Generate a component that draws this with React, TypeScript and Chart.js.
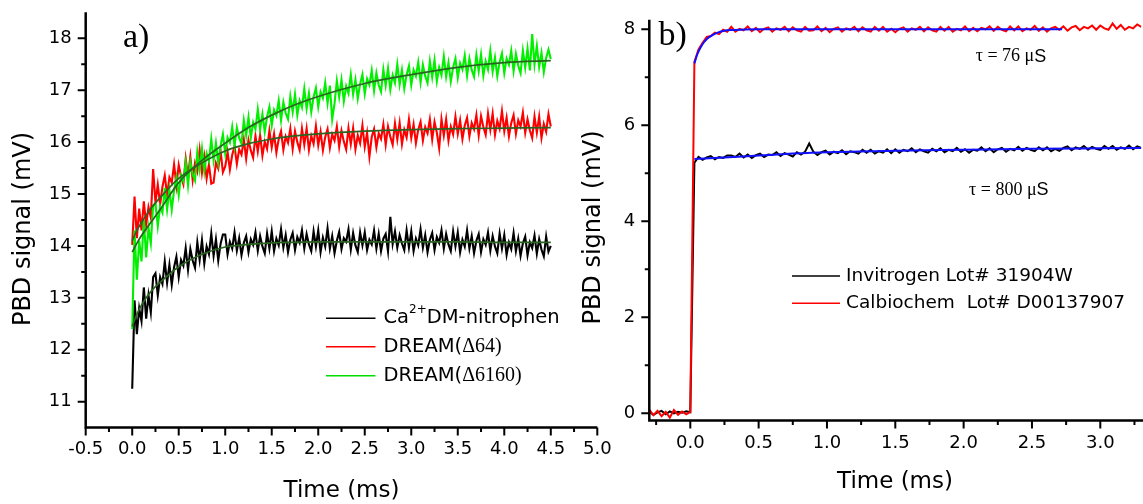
import React, { useEffect, useRef } from 'react';
import { Chart, registerables } from 'chart.js';

Chart.register(...registerables);

// ================= Panel a) =================
const A_T_START = 0;
const A_T_STEP = 0.025;

const A_CA_DMNP = [
  11.25, 12.95, 12.3, 12.8, 12.55, 13.2, 12.6, 13.05, 12.72, 13.4,
  13.47, 13.05, 13.4, 13.27, 13.7, 13.29, 13.64, 13.25, 13.59, 13.79,
  13.4, 13.73, 13.62, 13.96, 13.54, 13.94, 13.72, 13.58, 14.07, 13.73,
  14.11, 13.66, 13.99, 13.84, 14.24, 13.81, 14.13, 13.72, 14.04, 14.22,
  14.22, 13.84, 14.08, 13.95, 14.26, 13.91, 14.15, 13.82, 14.06, 14.19,
  13.88, 14.13, 14.02, 14.26, 13.91, 14.19, 13.99, 13.86, 14.24, 13.95,
  14.28, 13.9, 14.14, 14.01, 14.32, 13.97, 14.21, 13.88, 14.12, 14.25,
  13.92, 14.17, 14.06, 14.3, 13.95, 14.23, 14.03, 13.9, 14.28, 13.99,
  14.3, 13.88, 14.16, 13.99, 14.34, 13.95, 14.19, 13.86, 14.1, 14.27,
  13.94, 14.15, 14.08, 14.32, 13.93, 14.25, 14.01, 13.88, 14.26, 14.01,
  14.26, 13.92, 14.12, 14.03, 14.3, 13.95, 14.23, 13.9, 14.14, 14.23,
  13.9, 14.56, 14.04, 14.28, 13.97, 14.21, 14.05, 13.92, 14.3, 13.97,
  14.28, 13.9, 14.14, 14.01, 14.32, 13.97, 14.21, 13.88, 14.12, 14.25,
  13.92, 14.17, 14.06, 14.3, 13.95, 14.23, 14.03, 13.9, 14.28, 13.99,
  14.26, 13.88, 14.12, 13.99, 14.3, 13.95, 14.19, 13.86, 14.1, 14.23,
  13.88, 14.13, 14.02, 14.26, 13.91, 14.19, 13.99, 13.86, 14.24, 13.95,
  14.21, 13.83, 14.07, 13.94, 14.25, 13.9, 14.14, 13.81, 14.05, 14.18,
  13.82, 14.07, 13.96, 14.2, 13.85, 14.13, 13.93, 13.8, 14.18, 13.89,
  14.0,
];

const A_DREAM64 = [
  14.02, 14.95, 14.15, 14.72, 14.3, 14.86, 14.4, 14.75, 14.55, 15.48,
  14.84, 15.18, 14.8, 15.14, 15.36, 14.98, 15.32, 15.22, 15.57, 15.16,
  15.56, 15.34, 15.19, 15.68, 15.34, 15.72, 15.27, 15.6, 15.44, 15.85,
  15.41, 15.72, 15.3, 15.57, 15.2, 15.22, 15.6, 15.49, 15.83, 15.42,
  15.53, 15.81, 15.47, 15.75, 15.92, 15.58, 15.86, 15.76, 16.05, 15.68,
  16.04, 15.84, 15.7, 16.12, 15.82, 16.14, 15.74, 16.01, 15.87, 16.22,
  15.9, 16.16, 15.8, 16.06, 16.21, 15.85, 16.11, 15.99, 16.26, 15.87,
  16.21, 16.0, 15.85, 16.26, 15.95, 16.26, 15.85, 16.12, 15.97, 16.31,
  15.94, 16.2, 15.84, 16.1, 16.25, 15.89, 16.15, 16.03, 16.3, 15.91,
  16.22, 16.01, 15.86, 16.27, 15.96, 16.27, 15.86, 16.13, 15.98, 16.32,
  15.91, 16.18, 15.72, 16.1, 16.25, 15.9, 16.17, 16.06, 16.34, 15.95,
  16.3, 16.1, 15.95, 16.36, 16.05, 16.37, 15.96, 16.24, 16.09, 16.44,
  16.08, 16.34, 15.98, 16.24, 16.39, 16.03, 16.29, 16.17, 16.44, 16.05,
  16.39, 16.18, 15.88, 16.44, 16.13, 16.44, 16.03, 16.3, 16.15, 16.49,
  16.16, 16.42, 16.06, 16.32, 16.47, 16.11, 16.37, 16.25, 16.52, 16.13,
  16.5, 16.29, 16.14, 16.55, 16.24, 16.55, 16.14, 16.41, 16.26, 16.6,
  16.21, 16.47, 16.11, 16.37, 16.52, 16.16, 16.42, 16.3, 16.57, 16.18,
  16.44, 16.23, 16.08, 16.49, 16.18, 16.49, 16.08, 16.35, 16.2, 16.54,
  16.3,
];

const A_DREAM6160 = [
  12.4, 14.3, 13.35, 14.1, 13.7, 14.5, 13.78, 14.35, 14.05, 14.78,
  14.82, 14.38, 14.76, 14.64, 15.12, 14.7, 15.08, 14.7, 15.07, 15.32,
  14.98, 15.36, 15.25, 15.61, 15.17, 15.62, 15.38, 15.26, 15.81, 15.47,
  15.87, 15.44, 15.78, 15.64, 16.06, 15.65, 15.98, 15.6, 15.93, 16.15,
  15.78, 16.09, 15.99, 16.29, 15.92, 16.28, 16.08, 15.97, 16.42, 16.13,
  16.48, 16.08, 16.38, 16.25, 16.63, 16.25, 16.54, 16.2, 16.49, 16.68,
  16.32, 16.62, 16.51, 16.8, 16.42, 16.77, 16.56, 16.44, 16.88, 16.58,
  16.92, 16.52, 16.8, 16.67, 17.03, 16.65, 16.94, 16.58, 16.87, 17.04,
  16.68, 16.97, 16.85, 17.14, 16.75, 17.09, 16.44, 16.74, 17.18, 16.87,
  17.2, 16.79, 17.08, 16.94, 17.3, 16.92, 17.2, 16.84, 17.12, 17.3,
  16.93, 17.22, 17.1, 17.38, 16.99, 17.33, 17.1, 16.97, 17.4, 17.09,
  17.42, 17.01, 17.29, 17.14, 17.5, 17.11, 17.39, 17.03, 17.3, 17.47,
  17.1, 17.39, 17.27, 17.54, 17.15, 17.49, 17.27, 17.14, 17.56, 17.25,
  17.58, 17.17, 17.44, 17.29, 17.65, 17.26, 17.53, 17.17, 17.44, 17.61,
  17.24, 17.52, 17.4, 17.67, 17.28, 17.61, 17.39, 17.26, 17.68, 17.37,
  17.69, 17.28, 17.56, 17.4, 17.76, 17.36, 17.63, 17.27, 17.54, 17.71,
  17.33, 17.61, 17.49, 17.76, 17.37, 17.7, 17.47, 17.33, 17.76, 17.44,
  17.8, 17.38, 18.08, 17.5, 17.85, 17.45, 17.72, 17.35, 17.62, 17.78,
  17.6,
];

const A_FIT_T = [0, 0.05, 0.1, 0.2, 0.3, 0.5, 0.75, 1, 1.25, 1.5, 1.75, 2, 2.5, 3, 3.5, 4, 4.5];
const A_FIT_CA = [12.45, 12.68, 12.86, 13.12, 13.3, 13.6, 13.84, 13.98, 14.03, 14.06, 14.07, 14.08, 14.08, 14.08, 14.08, 14.07, 14.07];
const A_FIT_64 = [14.1, 14.3, 14.45, 14.72, 14.93, 15.3, 15.6, 15.83, 15.97, 16.06, 16.12, 16.16, 16.21, 16.24, 16.26, 16.27, 16.28];
const A_FIT_6160 = [13.88, 14.05, 14.2, 14.45, 14.7, 15.22, 15.65, 15.98, 16.28, 16.52, 16.72, 16.88, 17.13, 17.3, 17.44, 17.53, 17.57];

const A_X_TICKS = [-0.5, 0, 0.5, 1, 1.5, 2, 2.5, 3, 3.5, 4, 4.5, 5];
const A_X_MINOR = [-0.25, 0.25, 0.75, 1.25, 1.75, 2.25, 2.75, 3.25, 3.75, 4.25, 4.75];
const A_Y_TICKS = [11, 12, 13, 14, 15, 16, 17, 18];
const A_Y_MINOR = [11.5, 12.5, 13.5, 14.5, 15.5, 16.5, 17.5];

// ================= Panel b) =================
const B_T_START = -0.3;
const B_T_STEP = 0.03;

const B_CALBIOCHEM = [
  0.08, -0.04, 0.05, -0.06, 0.03, -0.09, 0.07, -0.03, 0.04, -0.02,
  0.03, 7.32, 7.58, 7.72, 7.84, 7.86, 7.93, 7.9, 7.99, 7.95,
  8.05, 7.95, 8.01, 7.98, 8.06, 7.96, 8.03, 7.94, 8.01, 8.04,
  7.95, 8.02, 7.99, 8.05, 7.96, 8.04, 7.98, 7.95, 8.05, 7.97,
  7.98, 8.06, 7.96, 8.03, 7.94, 8.01, 8.04, 7.95, 8.02, 7.99,
  8.05, 7.96, 8.04, 7.98, 7.95, 8.05, 7.97, 8.05, 7.95, 8.01,
  7.94, 8.01, 8.04, 7.95, 8.02, 7.99, 8.05, 7.96, 8.04, 7.98,
  7.95, 8.05, 7.97, 8.05, 7.95, 8.01, 7.98, 8.06, 7.96, 8.03,
  7.96, 8.03, 8.0, 8.06, 7.97, 8.05, 7.99, 7.96, 8.06, 7.98,
  8.06, 7.96, 8.02, 7.99, 8.07, 7.97, 8.04, 7.95, 8.02, 8.05,
  7.99, 8.06, 7.97, 8.04, 8.07, 7.98, 8.05, 8.02, 8.08, 7.99,
  8.08, 8.02, 7.99, 8.12, 8.01, 8.09, 7.99, 8.05, 8.02, 8.1,
  8.05,
];

const B_INVITROGEN = [
  0.03, -0.03, 0.02, 0.05, -0.02, 0.04, 0.0, 0.03, 0.01, 0.04,
  0.02, 5.22, 5.34, 5.28, 5.33, 5.36, 5.29, 5.34, 5.32, 5.37,
  5.37, 5.34, 5.41, 5.33, 5.39, 5.32, 5.38, 5.41, 5.34, 5.39,
  5.38, 5.44, 5.36, 5.42, 5.39, 5.35, 5.44, 5.39, 5.45, 5.62,
  5.45, 5.38, 5.44, 5.47, 5.39, 5.45, 5.42, 5.48, 5.4, 5.46,
  5.44, 5.41, 5.49, 5.43, 5.49, 5.41, 5.46, 5.43, 5.5, 5.42,
  5.5, 5.43, 5.49, 5.46, 5.52, 5.44, 5.5, 5.46, 5.43, 5.51,
  5.46, 5.52, 5.44, 5.49, 5.46, 5.53, 5.45, 5.5, 5.43, 5.49,
  5.47, 5.54, 5.46, 5.52, 5.44, 5.5, 5.53, 5.45, 5.51, 5.48,
  5.55, 5.47, 5.53, 5.49, 5.46, 5.54, 5.48, 5.54, 5.46, 5.51,
  5.47, 5.53, 5.56, 5.48, 5.54, 5.51, 5.57, 5.49, 5.55, 5.51,
  5.49, 5.57, 5.51, 5.57, 5.49, 5.54, 5.51, 5.58, 5.5, 5.56,
  5.53,
];

const B_FIT_CAL_T = [0.03, 0.05, 0.075, 0.1, 0.125, 0.15, 0.2, 0.25, 0.3, 0.4, 0.5, 0.75, 1.0, 1.5, 2.0, 2.72];
const B_FIT_CAL = [7.29, 7.47, 7.62, 7.73, 7.81, 7.86, 7.93, 7.97, 7.985, 7.997, 8.0, 8.0, 8.0, 8.0, 8.0, 8.0];
const B_FIT_INV_T = [0.03, 0.25, 0.5, 0.75, 1.0, 1.5, 2.0, 2.5, 3.0, 3.3];
const B_FIT_INV = [5.3, 5.33, 5.37, 5.41, 5.44, 5.47, 5.49, 5.51, 5.52, 5.525];

const B_X_TICKS = [0, 0.5, 1, 1.5, 2, 2.5, 3];
const B_X_MINOR = [-0.25, 0.25, 0.75, 1.25, 1.75, 2.25, 2.75, 3.25];
const B_Y_TICKS = [0, 2, 4, 6, 8];
const B_Y_MINOR = [1, 3, 5, 7];

// ================= helpers =================
const SANS = '"DejaVu Sans"';
const SERIF = '"Liberation Serif"';

const sampled = (start: number, step: number, vals: number[]) =>
  vals.map((v, i) => ({ x: Math.round((start + i * step) * 10000) / 10000, y: v }));
const zip = (ts: number[], vs: number[]) => ts.map((t, i) => ({ x: t, y: vs[i] }));

type Seg = { t: string; font: string; dy?: number };
type TextItem = { x: number; y: number; rot?: number; align?: 'left' | 'center'; baseline?: CanvasTextBaseline; segs: Seg[] };
type LegendLine = { x1: number; x2: number; y: number; color: string; width: number };
type DecorCfg = {
  xMajor: number[]; xMinor: number[]; yMajor: number[]; yMinor: number[];
  majorLen: number; minorLen: number; axisWidth: number; axisRight?: number;
  texts: TextItem[]; lines: LegendLine[];
};

function drawText(ctx: CanvasRenderingContext2D, t: TextItem) {
  ctx.save();
  ctx.translate(t.x, t.y);
  if (t.rot) ctx.rotate((t.rot * Math.PI) / 180);
  ctx.textBaseline = t.baseline || 'middle';
  ctx.textAlign = 'left';
  ctx.fillStyle = '#000';
  const widths = t.segs.map((s) => {
    ctx.font = s.font;
    return ctx.measureText(s.t).width;
  });
  const total = widths.reduce((a, b) => a + b, 0);
  let x = t.align === 'center' ? -total / 2 : 0;
  t.segs.forEach((s, i) => {
    ctx.font = s.font;
    ctx.fillText(s.t, x, s.dy || 0);
    x += widths[i];
  });
  ctx.restore();
}

function makeDecor(cfg: DecorCfg) {
  return {
    id: 'decor',
    afterDraw(chart: any) {
      const ctx: CanvasRenderingContext2D = chart.ctx;
      const a = chart.chartArea;
      const xs = chart.scales.x;
      const ys = chart.scales.y;
      ctx.save();
      ctx.strokeStyle = '#000';
      ctx.lineCap = 'butt';
      ctx.lineWidth = 2;
      ctx.beginPath();
      cfg.xMajor.forEach((v) => { const p = xs.getPixelForValue(v); ctx.moveTo(p, a.bottom); ctx.lineTo(p, a.bottom + cfg.majorLen); });
      cfg.xMinor.forEach((v) => { const p = xs.getPixelForValue(v); ctx.moveTo(p, a.bottom); ctx.lineTo(p, a.bottom + cfg.minorLen); });
      cfg.yMajor.forEach((v) => { const p = ys.getPixelForValue(v); ctx.moveTo(a.left, p); ctx.lineTo(a.left - cfg.majorLen, p); });
      cfg.yMinor.forEach((v) => { const p = ys.getPixelForValue(v); ctx.moveTo(a.left, p); ctx.lineTo(a.left - cfg.minorLen, p); });
      ctx.stroke();
      ctx.lineWidth = cfg.axisWidth;
      ctx.lineJoin = 'miter';
      ctx.beginPath();
      ctx.moveTo(a.left, a.top);
      ctx.lineTo(a.left, a.bottom);
      ctx.lineTo(cfg.axisRight ?? a.right, a.bottom);
      ctx.stroke();
      cfg.lines.forEach((l) => {
        ctx.strokeStyle = l.color;
        ctx.lineWidth = l.width;
        ctx.beginPath();
        ctx.moveTo(l.x1, l.y);
        ctx.lineTo(l.x2, l.y);
        ctx.stroke();
      });
      cfg.texts.forEach((t) => drawText(ctx, t));
      ctx.restore();
    },
  };
}

function axisOpts(o: {
  min: number; max: number; ticks: number[]; size: number; horizontal: boolean; padding: number; fmt: (v: number) => string;
}) {
  return {
    type: 'linear',
    min: o.min,
    max: o.max,
    afterBuildTicks: (s: any) => { s.ticks = o.ticks.map((value) => ({ value })); },
    afterFit: (s: any) => {
      if (o.horizontal) s.height = o.size; else s.width = o.size;
      s.paddingTop = 0; s.paddingBottom = 0; s.paddingLeft = 0; s.paddingRight = 0;
    },
    grid: { display: false, drawTicks: false },
    border: { display: false },
    ticks: {
      autoSkip: false,
      maxRotation: 0,
      minRotation: 0,
      padding: o.padding,
      color: '#000',
      font: { family: 'DejaVu Sans', size: 18 },
      callback: (v: any) => o.fmt(Number(v)),
    },
  };
}

const trace = (data: any[], color: string, width: number, order: number) => ({
  data, borderColor: color, borderWidth: width, pointRadius: 0, tension: 0, fill: false, order,
  borderJoinStyle: 'miter',
});
const fit = (data: any[], color: string, width: number) => ({
  data, borderColor: color, borderWidth: width, pointRadius: 0, fill: false, order: 0,
  cubicInterpolationMode: 'monotone',
});

const FIT_GREEN = '#2a6420';

function configA(): any {
  return {
    type: 'line',
    data: {
      datasets: [
        fit(zip(A_FIT_T, A_FIT_CA), FIT_GREEN, 1.7),
        fit(zip(A_FIT_T, A_FIT_64), FIT_GREEN, 1.7),
        fit(zip(A_FIT_T, A_FIT_6160), FIT_GREEN, 1.7),
        trace(sampled(A_T_START, A_T_STEP, A_DREAM6160), '#00f000', 2.1, 1),
        trace(sampled(A_T_START, A_T_STEP, A_DREAM64), '#ff0000', 2.1, 2),
        trace(sampled(A_T_START, A_T_STEP, A_CA_DMNP), '#000000', 2.1, 3),
      ],
    },
    options: {
      animation: false,
      responsive: false,
      events: [],
      layout: { padding: { left: 0, right: 22.7, top: 12.35, bottom: 0 } },
      plugins: { legend: { display: false }, tooltip: { enabled: false } },
      scales: {
        x: axisOpts({ min: -0.5, max: 5.0, ticks: A_X_TICKS, size: 76.4, horizontal: true, padding: 11, fmt: (v) => v.toFixed(1) }),
        y: axisOpts({ min: 10.5, max: 18.5, ticks: A_Y_TICKS, size: 85.7, horizontal: false, padding: 14, fmt: (v) => String(v) }),
      },
    },
    plugins: [
      makeDecor({
        xMajor: A_X_TICKS, xMinor: A_X_MINOR, yMajor: A_Y_TICKS, yMinor: A_Y_MINOR,
        majorLen: 8, minorLen: 4.5, axisWidth: 2.5,
        lines: [
          { x1: 326, x2: 375.5, y: 318.3, color: '#000000', width: 1.5 },
          { x1: 326, x2: 375.5, y: 346.7, color: '#ff0000', width: 1.5 },
          { x1: 326, x2: 375.5, y: 375.7, color: '#00dd00', width: 1.5 },
        ],
        texts: [
          { x: 24, y: 229, rot: -90, align: 'center', segs: [{ t: 'PBD signal (mV)', font: `24px ${SANS}` }] },
          { x: 341.5, y: 491, align: 'center', segs: [{ t: 'Time (ms)', font: `23px ${SANS}` }] },
          { x: 123, y: 47, baseline: 'alphabetic', segs: [{ t: 'a)', font: `34px ${SERIF}` }] },
          { x: 383.5, y: 318.3, segs: [
            { t: 'Ca', font: `19.5px ${SANS}` },
            { t: '2+', font: `12px ${SANS}`, dy: -8 },
            { t: 'DM-nitrophen', font: `19.5px ${SANS}` },
          ] },
          { x: 383.5, y: 346.7, segs: [
            { t: 'DREAM(', font: `19.5px ${SANS}` },
            { t: 'Δ64)', font: `20px ${SERIF}` },
          ] },
          { x: 383.5, y: 375.7, segs: [
            { t: 'DREAM(', font: `19.5px ${SANS}` },
            { t: 'Δ6160)', font: `20px ${SERIF}` },
          ] },
        ],
      }),
    ],
  };
}

const B_LEFT = 580;

function configB(): any {
  return {
    type: 'line',
    data: {
      datasets: [
        fit(zip(B_FIT_CAL_T, B_FIT_CAL), '#1010ff', 2),
        fit(zip(B_FIT_INV_T, B_FIT_INV), '#1010ff', 2),
        trace(sampled(B_T_START, B_T_STEP, B_CALBIOCHEM), '#ff0000', 2, 1),
        trace(sampled(B_T_START, B_T_STEP, B_INVITROGEN), '#000000', 2, 2),
      ],
    },
    options: {
      animation: false,
      responsive: false,
      events: [],
      layout: { padding: { left: 0, right: 1.7, top: 19.7, bottom: 0 } },
      plugins: { legend: { display: false }, tooltip: { enabled: false } },
      scales: {
        x: axisOpts({ min: -0.3, max: 3.3, ticks: B_X_TICKS, size: 83.5, horizontal: true, padding: 12, fmt: (v) => v.toFixed(1) }),
        y: axisOpts({ min: -0.15, max: 8.2, ticks: B_Y_TICKS, size: 69.3, horizontal: false, padding: 14, fmt: (v) => String(v) }),
      },
    },
    plugins: [
      makeDecor({
        xMajor: B_X_TICKS, xMinor: B_X_MINOR, yMajor: B_Y_TICKS, yMinor: B_Y_MINOR,
        majorLen: 8, minorLen: 4.5, axisWidth: 2.5, axisRight: 1143 - B_LEFT,
        lines: [
          { x1: 792 - B_LEFT, x2: 840 - B_LEFT, y: 276, color: '#000000', width: 1.5 },
          { x1: 792 - B_LEFT, x2: 840 - B_LEFT, y: 303.3, color: '#ff0000', width: 1.5 },
        ],
        texts: [
          { x: 593.7 - B_LEFT, y: 227.5, rot: -90, align: 'center', segs: [{ t: 'PBD signal (mV)', font: `24px ${SANS}` }] },
          { x: 895 - B_LEFT, y: 482, align: 'center', segs: [{ t: 'Time (ms)', font: `23px ${SANS}` }] },
          { x: 658.5 - B_LEFT, y: 45, baseline: 'alphabetic', segs: [{ t: 'b)', font: `34px ${SERIF}` }] },
          { x: 975.7 - B_LEFT, y: 56.7, segs: [
            { t: 'τ = 76 μ', font: `18px ${SERIF}` },
            { t: 'S', font: `18px "Liberation Sans"` },
          ] },
          { x: 969 - B_LEFT, y: 190, segs: [
            { t: 'τ = 800 μ', font: `18px ${SERIF}` },
            { t: 'S', font: `18px "Liberation Sans"` },
          ] },
          { x: 846 - B_LEFT, y: 276, segs: [{ t: 'Invitrogen Lot# 31904W', font: `18.5px ${SANS}` }] },
          { x: 846 - B_LEFT, y: 303.3, segs: [{ t: 'Calbiochem  Lot# D00137907', font: `18.5px ${SANS}` }] },
        ],
      }),
    ],
  };
}

function Panel({ make, left, width }: { make: () => any; left: number; width: number }) {
  const ref = useRef<HTMLCanvasElement>(null);
  useEffect(() => {
    if (!ref.current) return;
    const chart = new Chart(ref.current, make());
    return () => chart.destroy();
  }, [make]);
  return (
    <canvas
      ref={ref}
      width={width}
      height={504}
      style={{ position: 'absolute', left, top: 0, width, height: 504, display: 'block' }}
    />
  );
}

export default function App() {
  return (
    <div style={{ position: 'absolute', left: 0, top: 0, width: 1143, height: 504, background: '#fff', overflow: 'hidden' }}>
      <Panel make={configA} left={0} width={620} />
      <Panel make={configB} left={B_LEFT} width={1143 - B_LEFT} />
    </div>
  );
}
